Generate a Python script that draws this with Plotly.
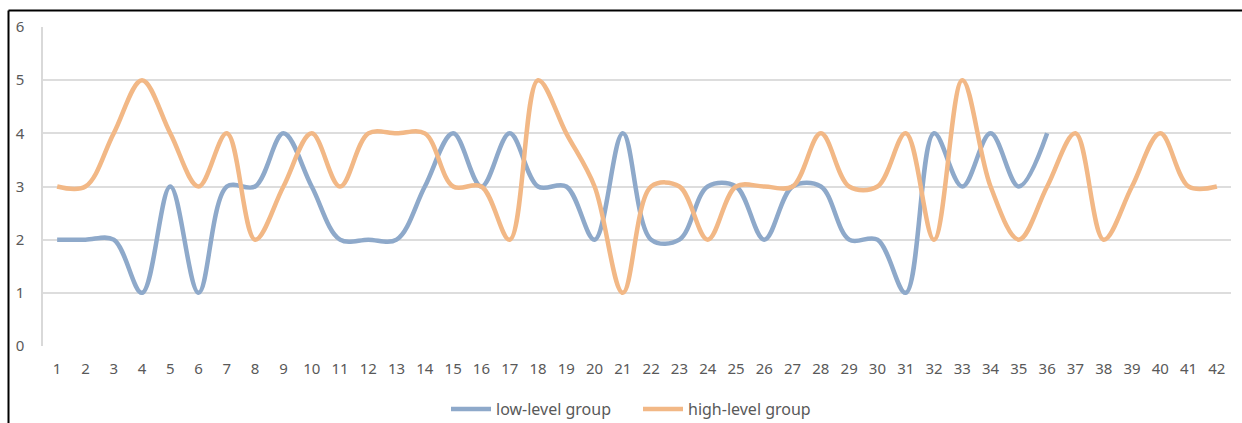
import plotly.graph_objects as go

# Data
categories = [str(i) for i in range(1, 43)]
low_level = [2, 2, 2, 1, 3, 1, 3, 3, 4, 3, 2, 2, 2, 3, 4, 3, 4, 3, 3, 2, 4,
             2, 2, 3, 3, 2, 3, 3, 2, 2, 1, 4, 3, 4, 3, 4]
high_level = [3, 3, 4, 5, 4, 3, 4, 2, 3, 4, 3, 4, 4, 4, 3, 3, 2, 5, 4, 3, 1,
              3, 3, 2, 3, 3, 3, 4, 3, 3, 4, 2, 5, 3, 2, 3, 4, 2, 3, 4, 3, 3]
y_ticks = [0, 1, 2, 3, 4, 5, 6]

W, H = 1242, 423
L, R, T, B = 43, 11, 27, 77
pw, ph = W - L - R, H - T - B

fig = go.Figure()
fig.add_trace(go.Scatter(
    x=categories[:len(low_level)], y=low_level, name="low-level group",
    mode="lines", line=dict(color="#8EA9CA", width=4.5, shape="spline", smoothing=1.0),
))
fig.add_trace(go.Scatter(
    x=categories[:len(high_level)], y=high_level, name="high-level group",
    mode="lines", line=dict(color="#F2B886", width=4.5, shape="spline", smoothing=1.0),
))

def px_x(px):
    return (px - L) / pw

def px_y(py):
    return (H - B - py) / ph

# Outer frame: top and left edges
fig.add_shape(type="line", xref="paper", yref="paper",
              x0=px_x(8.5), x1=px_x(W + 10), y0=px_y(10.5), y1=px_y(10.5),
              line=dict(color="black", width=2))
fig.add_shape(type="line", xref="paper", yref="paper",
              x0=px_x(8.5), x1=px_x(8.5), y0=px_y(10.5), y1=px_y(H + 30),
              line=dict(color="black", width=2))

fig.update_layout(
    width=W, height=H,
    margin=dict(l=L, r=R, t=T, b=B, autoexpand=False),
    paper_bgcolor="white", plot_bgcolor="white",
    font=dict(family="Noto Sans", size=15, color="#595959"),
    showlegend=True,
    legend=dict(orientation="h", x=px_x(638), xanchor="center", y=px_y(409), yanchor="middle",
                font=dict(size=16, color="#595959"), itemwidth=40,
                entrywidth=137, bgcolor="rgba(0,0,0,0)"),
    xaxis=dict(type="category", categoryorder="array", categoryarray=categories,
               tickvals=categories, ticktext=categories,
               range=[-0.5, len(categories) - 0.5],
               showgrid=False, showline=False, zeroline=False,
               ticks="", ticklabelstandoff=12, tickfont=dict(size=15, color="#595959")),
    yaxis=dict(range=[0, 6], tickvals=y_ticks, showgrid=True, gridcolor="#DDDDDD",
               gridwidth=1.5, zeroline=False, showline=True, linecolor="#D9D9D9",
               linewidth=1.5, ticks="", ticklabelstandoff=14,
               tickfont=dict(size=15, color="#595959")),
)

fig.write_html("out.html")
